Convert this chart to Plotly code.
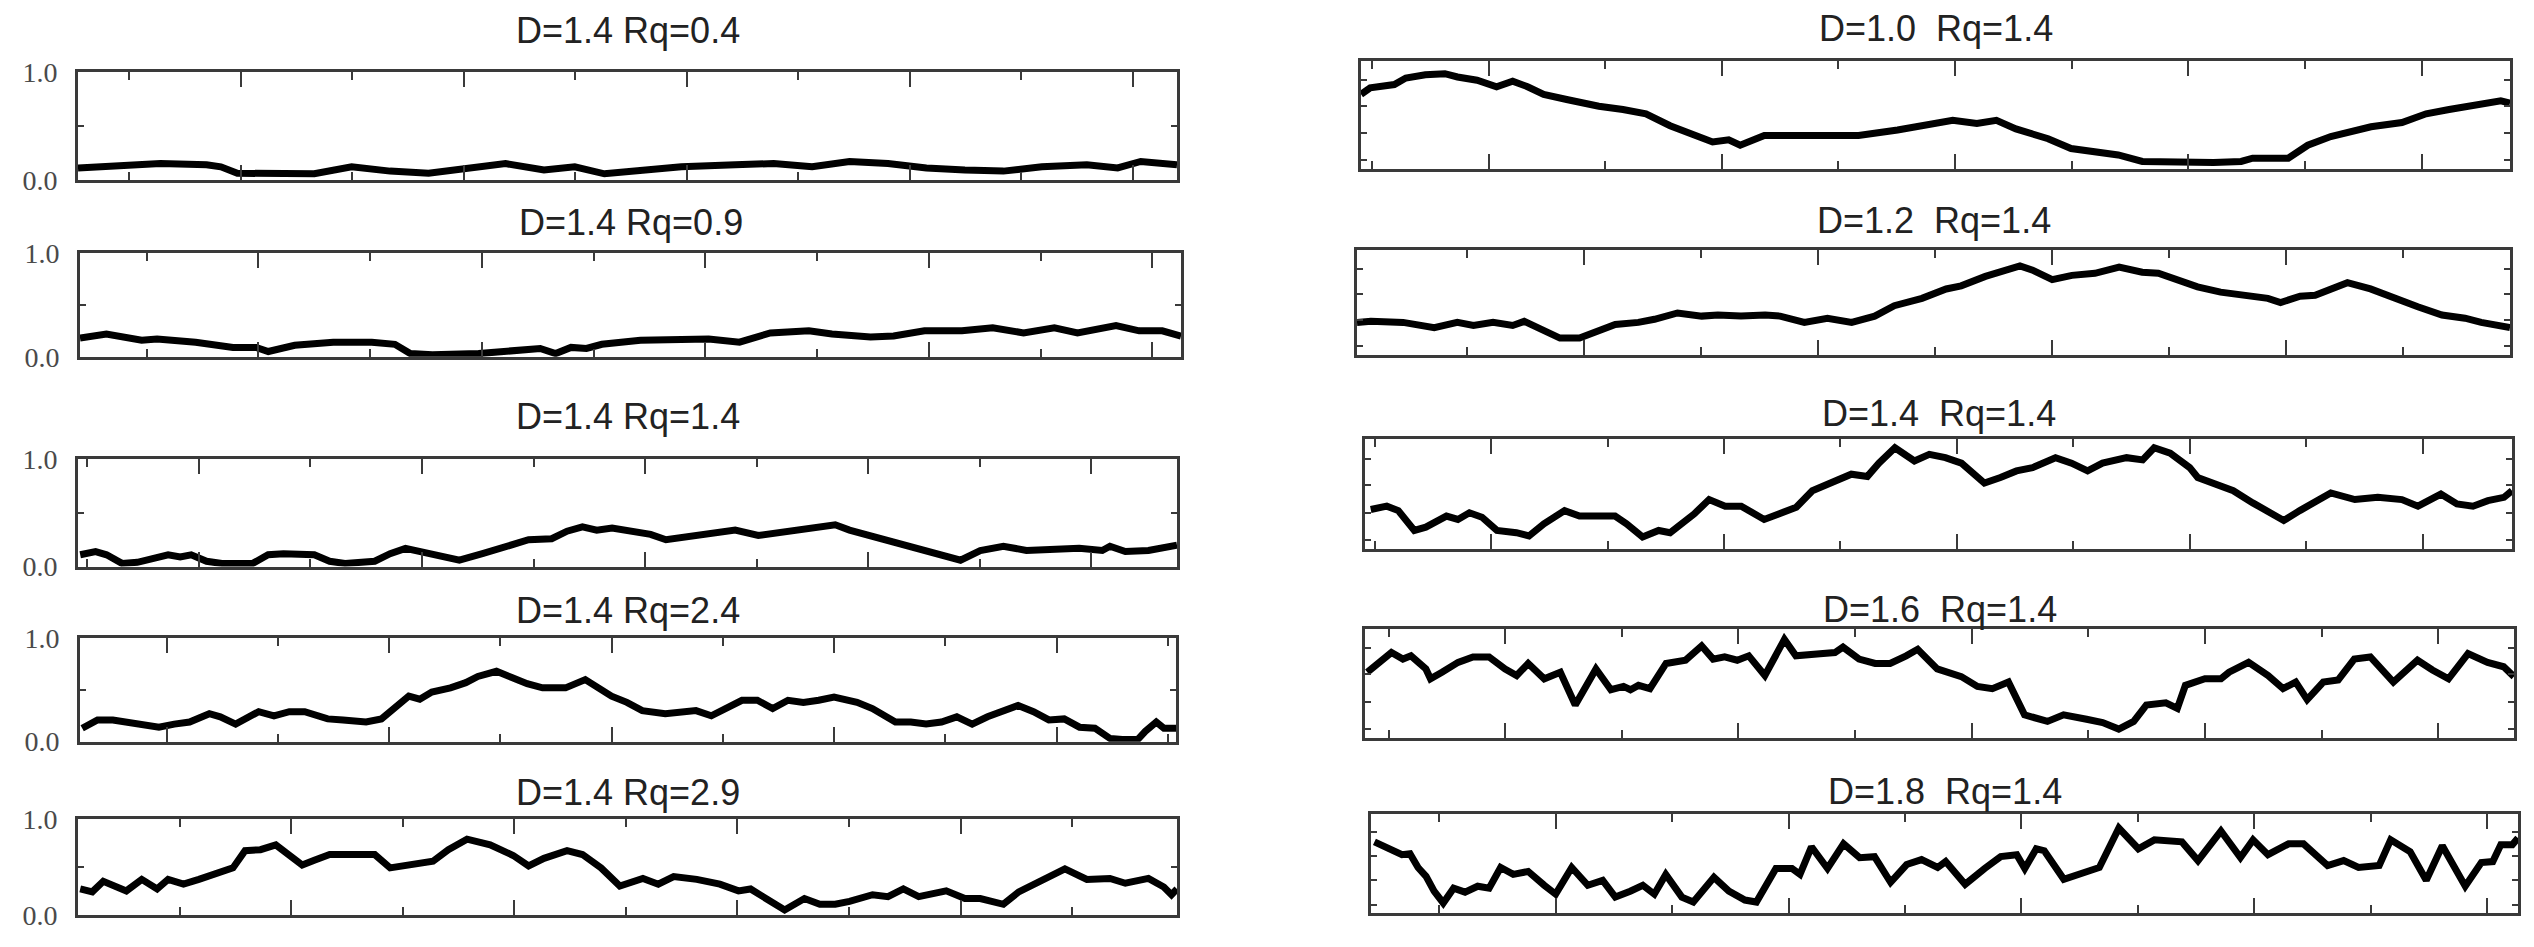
import plotly.graph_objects as go

# ---------------- data (x = % of profile length, y = normalised height) ----------------
titles_left = ["D=1.4 Rq=0.4", "D=1.4 Rq=0.9", "D=1.4 Rq=1.4", "D=1.4 Rq=2.4", "D=1.4 Rq=2.9"]
titles_right = ["D=1.0  Rq=1.4", "D=1.2  Rq=1.4", "D=1.4  Rq=1.4", "D=1.6  Rq=1.4", "D=1.8  Rq=1.4"]
y_ticktext = ["0.0", "1.0"]

L1_x = [0, 3, 7.5, 11.7, 13, 14.5, 18, 21.5, 24.9, 28.4, 31.9, 35.4, 38.9, 42.4, 45.2, 47.9, 51.4,
        54.9, 59.8, 63.3, 66.8, 70.2, 73.7, 77.2, 80.7, 84.2, 87.7, 91.8, 94.6, 96.7, 100]
L1_y = [0.11, 0.12, 0.15, 0.14, 0.12, 0.06, 0.05, 0.055, 0.12, 0.08, 0.06, 0.11, 0.15, 0.09, 0.12, 0.055, 0.09,
        0.12, 0.14, 0.15, 0.12, 0.17, 0.15, 0.11, 0.09, 0.08, 0.12, 0.14, 0.11, 0.17, 0.14]

L2_x = [0, 2.4, 5.6, 7, 10.5, 13.9, 16, 17.1, 19.5, 23, 26.5, 28.6, 30, 32, 36.2, 40.4, 41.8, 43.2, 44.6,
        46, 47.4, 50.9, 54.4, 57.1, 59.9, 62.7, 66.2, 68.3, 71.8, 73.9, 76.7, 80.1, 82.9, 85.7, 88.5,
        90.6, 94.1, 96.2, 98.3, 100]
L2_y = [0.18, 0.22, 0.16, 0.17, 0.14, 0.09, 0.09, 0.05, 0.11, 0.14, 0.14, 0.12, 0.03, 0.02, 0.03, 0.06,
        0.08, 0.03, 0.09, 0.08, 0.12, 0.16, 0.17, 0.17, 0.14, 0.23, 0.25, 0.22, 0.19, 0.2, 0.25, 0.25,
        0.28, 0.23, 0.28, 0.23, 0.3, 0.25, 0.25, 0.2]

L3_x = [0.2, 1.6, 2.6, 4, 5.4, 6.8, 8.2, 9.3, 10.3, 11.7, 13.1, 15.9, 17.3, 18.7, 21.5, 22.9, 24.3, 27,
        28.4, 29.8, 31.2, 32.6, 34.7, 36.8, 38.9, 41, 43.1, 44.5, 45.9, 47.2, 48.6, 50, 52.1, 53.5, 55.6,
        57.7, 59.8, 61.9, 63.3, 65.4, 67.5, 68.9, 70.2, 72.3, 74.4, 77.2, 79.3, 80.3, 82.1, 84.2, 86.3,
        89.1, 91.1, 93.2, 93.9, 95.3, 97.4, 100]
L3_y = [0.11, 0.14, 0.11, 0.03, 0.04, 0.08, 0.11, 0.09, 0.11, 0.05, 0.03, 0.03, 0.11, 0.12, 0.11, 0.05,
        0.03, 0.05, 0.12, 0.17, 0.14, 0.12, 0.06, 0.12, 0.19, 0.25, 0.26, 0.33, 0.37, 0.34, 0.36, 0.34,
        0.3, 0.25, 0.28, 0.31, 0.34, 0.29, 0.31, 0.34, 0.36, 0.39, 0.34, 0.28, 0.22, 0.15, 0.09, 0.06,
        0.15, 0.19, 0.15, 0.16, 0.17, 0.15, 0.19, 0.14, 0.15, 0.2]

L4_x = [0.2, 1.6, 3, 4.4, 5.8, 7.2, 8.6, 10, 11.8, 12.8, 14.2, 16.3, 17.7, 19.1, 20.5, 21.6, 22.6, 24,
        26.1, 27.5, 28.9, 30, 31, 32.1, 33.8, 35.2, 36.3, 38, 39.4, 40.8, 42.2, 44.3, 46.1, 47.1, 48.5,
        49.9, 51.3, 53.4, 54.8, 56.2, 57.6, 59, 60.4, 61.8, 63.2, 64.6, 66, 67.4, 68.8, 70.9, 72.3, 74.4,
        75.8, 77.2, 78.6, 80, 81.4, 82.8, 84.2, 85.6, 87, 88.4, 89.8, 91.2, 92.6, 94, 95.1, 96.5, 97.2,
        98.2, 98.9, 100]
L4_y = [0.13, 0.21, 0.21, 0.19, 0.16, 0.14, 0.17, 0.19, 0.27, 0.24, 0.17, 0.29, 0.25, 0.29, 0.29, 0.25,
        0.22, 0.21, 0.19, 0.22, 0.35, 0.44, 0.41, 0.48, 0.52, 0.57, 0.63, 0.68, 0.62, 0.56, 0.52, 0.52,
        0.6, 0.54, 0.44, 0.38, 0.3, 0.27, 0.29, 0.3, 0.25, 0.32, 0.4, 0.4, 0.32, 0.4, 0.38, 0.4, 0.43,
        0.38, 0.32, 0.19, 0.19, 0.17, 0.19, 0.24, 0.17, 0.24, 0.29, 0.35, 0.29, 0.21, 0.22, 0.14, 0.13,
        0.03, 0.02, 0.02, 0.1, 0.19, 0.13, 0.13]

L5_x = [0.2, 1.3, 2.3, 3.3, 4.4, 5.8, 7.2, 8.2, 9.6, 11, 12.4, 14.1, 15.2, 16.6, 18, 19.4, 20.4, 21.5,
        22.9, 24.3, 27, 28.4, 29.8, 32.3, 33.7, 35.4, 37.5, 39.6, 41, 42.4, 44.5, 45.9, 47.6, 49.3, 51.4,
        52.8, 54.2, 56.3, 58.4, 60.1, 61.2, 62.6, 64.3, 66.1, 67.5, 68.9, 70.2, 72.3, 73.7, 75.1, 76.5,
        79, 80.7, 82.1, 84.2, 85.6, 87.7, 89.8, 91.8, 93.9, 95.3, 97.4, 98.8, 99.5, 100]
L5_y = [0.27, 0.24, 0.35, 0.3, 0.25, 0.37, 0.27, 0.37, 0.32, 0.37, 0.43, 0.49, 0.67, 0.68, 0.73, 0.62,
        0.52, 0.57, 0.63, 0.63, 0.63, 0.49, 0.52, 0.56, 0.68, 0.79, 0.73, 0.62, 0.51, 0.59, 0.67, 0.63,
        0.49, 0.3, 0.38, 0.32, 0.4, 0.37, 0.32, 0.25, 0.27, 0.17, 0.05, 0.17, 0.11, 0.11, 0.14, 0.21,
        0.19, 0.27, 0.19, 0.25, 0.17, 0.17, 0.11, 0.24, 0.37, 0.48, 0.37, 0.38, 0.33, 0.38, 0.29, 0.21, 0.27]

R1_x = [0, 0.8, 2.9, 3.9, 5.6, 7.3, 8.4, 10.1, 11.8, 13.2, 14.5, 15.9, 18, 20.7, 22.8, 24.8, 26.9, 28.9,
        30.6, 32, 33, 35.1, 38.5, 43.3, 46.7, 49.5, 51.5, 53.6, 55.3, 57, 59.8, 61.8, 63.9, 65.9, 68,
        70.7, 74.2, 76.6, 77.6, 80.7, 82.4, 84.4, 87.9, 90.6, 92.7, 94.7, 97.5, 99.2, 100]
R1_y = [0.69, 0.75, 0.78, 0.84, 0.87, 0.88, 0.85, 0.82, 0.76, 0.81, 0.76, 0.69, 0.64, 0.58, 0.55, 0.51,
        0.4, 0.31, 0.25, 0.27, 0.22, 0.31, 0.31, 0.31, 0.36, 0.42, 0.45, 0.42, 0.45, 0.37, 0.28, 0.19,
        0.16, 0.13, 0.07, 0.06, 0.06, 0.07, 0.1, 0.1, 0.22, 0.3, 0.39, 0.43, 0.51, 0.55, 0.61, 0.63, 0.61]

R2_x = [0, 1.2, 4, 6.7, 8.7, 10.1, 11.8, 13.5, 14.5, 16.2, 17.6, 19.3, 20.7, 22.4, 24.4, 25.8, 27.8,
        29.9, 31.3, 33.3, 35.4, 36.7, 38.8, 40.8, 42.9, 44.9, 46.6, 49, 51.1, 52.4, 54.5, 55.8, 57.5,
        58.6, 60.3, 62, 64, 66.1, 68.1, 69.5, 70.9, 72.9, 74.9, 77, 79, 80.1, 81.8, 83.1, 84.5, 85.9,
        87.9, 89.9, 92, 94.1, 96.1, 97.5, 98.8, 100]
R2_y = [0.31, 0.32, 0.31, 0.26, 0.31, 0.28, 0.31, 0.28, 0.32, 0.24, 0.16, 0.16, 0.22, 0.29, 0.31, 0.34,
        0.4, 0.37, 0.38, 0.37, 0.38, 0.37, 0.31, 0.35, 0.31, 0.37, 0.47, 0.54, 0.63, 0.66, 0.75, 0.79,
        0.85, 0.81, 0.72, 0.76, 0.78, 0.84, 0.79, 0.78, 0.72, 0.65, 0.6, 0.57, 0.54, 0.5, 0.56, 0.57,
        0.63, 0.69, 0.63, 0.54, 0.46, 0.38, 0.35, 0.31, 0.29, 0.26]

R3_x = [0.5, 1.9, 2.9, 4.3, 5.3, 7.1, 8.1, 9.1, 10.2, 11.5, 13.2, 14.3, 15.6, 17.4, 18.7, 21.8, 22.8,
        24.2, 25.6, 26.6, 28.7, 30, 31.4, 32.8, 34.8, 36.2, 37.6, 39, 40.3, 42.4, 43.8, 44.8, 46.2, 47.9,
        49.2, 50.6, 52, 54, 55.4, 56.8, 58.2, 60.2, 61.6, 63, 64.3, 66.4, 67.8, 68.8, 70.2, 71.9, 72.6,
        73.9, 75.7, 77.4, 78.7, 80.1, 81.5, 82.9, 84.2, 86.3, 88.3, 90.4, 91.8, 93.8, 95.2, 96.6, 97.9,
        99.3, 100]
R3_y = [0.36, 0.39, 0.35, 0.17, 0.2, 0.3, 0.27, 0.33, 0.29, 0.17, 0.15, 0.12, 0.23, 0.35, 0.3, 0.3,
        0.23, 0.11, 0.17, 0.15, 0.32, 0.45, 0.39, 0.39, 0.27, 0.32, 0.38, 0.53, 0.59, 0.68, 0.66, 0.78,
        0.92, 0.8, 0.86, 0.83, 0.78, 0.6, 0.65, 0.71, 0.74, 0.83, 0.78, 0.71, 0.78, 0.83, 0.81, 0.92,
        0.87, 0.74, 0.65, 0.6, 0.53, 0.42, 0.35, 0.26, 0.35, 0.44, 0.51, 0.45, 0.47, 0.45, 0.39, 0.5,
        0.41, 0.39, 0.44, 0.47, 0.53]

R4_x = [0.2, 1.2, 2.3, 3.3, 4, 5.3, 5.7, 6.7, 8.1, 9.4, 10.8, 12.2, 13.2, 14.2, 15.6, 17, 18.3, 20.1,
        21.4, 22.5, 23.1, 23.8, 24.8, 26.2, 27.9, 29.3, 30.3, 31.3, 32.4, 33.4, 34.8, 36.5, 37.5, 39.6,
        40.9, 41.6, 43, 44.4, 45.7, 47.1, 48.1, 49.8, 51.9, 53.3, 54.6, 56, 57.4, 59.4, 60.8, 62.8, 64.2,
        65.6, 66.9, 68, 69.7, 70.7, 71.4, 73.1, 74.5, 75.2, 76.9, 78.6, 79.9, 81, 82, 83.4, 84.7, 86.1,
        87.5, 89.5, 91.6, 92.9, 94.3, 96, 97.7, 99.1, 100]
R4_y = [0.6, 0.69, 0.78, 0.72, 0.75, 0.63, 0.54, 0.6, 0.69, 0.74, 0.74, 0.63, 0.57, 0.68, 0.54, 0.6,
        0.3, 0.63, 0.44, 0.47, 0.44, 0.48, 0.45, 0.68, 0.71, 0.84, 0.72, 0.74, 0.71, 0.75, 0.57, 0.9,
        0.75, 0.77, 0.78, 0.83, 0.72, 0.68, 0.68, 0.75, 0.81, 0.63, 0.56, 0.47, 0.45, 0.51, 0.21, 0.15,
        0.21, 0.17, 0.14, 0.08, 0.15, 0.3, 0.32, 0.27, 0.48, 0.54, 0.54, 0.6, 0.69, 0.57, 0.45, 0.51,
        0.35, 0.51, 0.53, 0.72, 0.74, 0.51, 0.71, 0.62, 0.54, 0.77, 0.69, 0.65, 0.56]

R5_x = [0.3, 1.4, 2.7, 3.4, 4.1, 4.8, 5.5, 6.3, 7.2, 8.2, 9.3, 10.3, 11.3, 12.4, 13.7, 15.1, 16.1, 17.5,
        18.9, 20.2, 21.3, 22.6, 23.7, 24.7, 25.7, 27.1, 28.1, 29.9, 31.2, 32.6, 33.6, 35.3, 36.7, 37.4,
        38.4, 39.8, 41.2, 42.6, 43.9, 45.3, 46.7, 48, 49.4, 50.1, 51.8, 53.5, 54.9, 56.3, 57, 58, 58.7,
        60.4, 62.5, 63.5, 65.2, 66.9, 68.3, 70.7, 72.1, 74.1, 75.8, 76.9, 78.2, 80, 81.3, 83.4, 84.8,
        86.1, 87.9, 88.9, 90.6, 92, 93.4, 95.4, 96.8, 97.8, 98.5, 99.5, 100]
R5_y = [0.72, 0.66, 0.59, 0.6, 0.46, 0.37, 0.22, 0.1, 0.25, 0.21, 0.27, 0.25, 0.46, 0.39, 0.42, 0.28,
        0.19, 0.46, 0.28, 0.33, 0.16, 0.22, 0.28, 0.19, 0.39, 0.16, 0.11, 0.36, 0.22, 0.13, 0.11, 0.45,
        0.45, 0.39, 0.67, 0.45, 0.7, 0.56, 0.57, 0.31, 0.49, 0.54, 0.46, 0.52, 0.29, 0.45, 0.57, 0.59,
        0.45, 0.65, 0.63, 0.34, 0.43, 0.46, 0.86, 0.65, 0.74, 0.72, 0.53, 0.83, 0.56, 0.74, 0.59, 0.7,
        0.7, 0.48, 0.53, 0.46, 0.48, 0.74, 0.62, 0.33, 0.68, 0.27, 0.51, 0.52, 0.69, 0.69, 0.76]

left_series = [(L1_x, L1_y), (L2_x, L2_y), (L3_x, L3_y), (L4_x, L4_y), (L5_x, L5_y)]
right_series = [(R1_x, R1_y), (R2_x, R2_y), (R3_x, R3_y), (R4_x, R4_y), (R5_x, R5_y)]

# ---------------- layout geometry (pixels in the 2534 x 947 canvas) ----------------
W, H = 2534, 947
left_boxes = [(70, 1169, 51, 162), (72, 1173, 238, 345), (70, 1169, 451, 562),
              (72, 1168, 636, 743), (70, 1169, 823, 922)]
right_boxes = [(1353, 2502, 39, 151), (1349, 2502, 235, 343), (1357, 2504, 430, 544),
               (1357, 2506, 626, 739), (1363, 2510, 818, 920)]
left_title_y = [8, 206, 407, 607, 796]
right_title_y = [6, 204, 404, 606, 795]
left_phase = [14.8, 16.2, 11.0, 7.9, 19.4]
right_phase = [11.1, 19.7, 11.0, 12.2, 16.1]
TICK_STEP = 20.3

fig = go.Figure()
layout = dict(width=W, height=H, margin=dict(l=0, r=0, t=0, b=0),
              paper_bgcolor="white", plot_bgcolor="white", showlegend=False,
              annotations=[])

FRAME = "#3a3a3a"


def tick_list(p0):
    vals = []
    v = p0
    while v > 0:
        v -= TICK_STEP
    v += TICK_STEP
    while v < 100:
        vals.append(round(v, 2))
        v += TICK_STEP
    return vals


def add_panel(i, series, box, title, title_y, phase, labels):
    x0, x1, y0, y1 = box
    xs, ys = series
    xa = "xaxis" if i == 1 else f"xaxis{i}"
    ya = "yaxis" if i == 1 else f"yaxis{i}"
    xr = "x" if i == 1 else f"x{i}"
    yr = "y" if i == 1 else f"y{i}"
    fig.add_trace(go.Scatter(x=xs, y=ys, mode="lines", xaxis=xr, yaxis=yr,
                             line=dict(color="black", width=7), hoverinfo="skip"))
    layout[xa] = dict(domain=[x0 / W, x1 / W], anchor=yr, range=[0, 100],
                      showline=True, linecolor=FRAME, linewidth=3, mirror="ticks",
                      showgrid=False, zeroline=False, showticklabels=False,
                      ticks="inside", ticklen=15, tickwidth=2, tickcolor=FRAME,
                      tickmode="array", tickvals=tick_list(phase),
                      minor=dict(ticks="inside", ticklen=8, tickwidth=2, tickcolor=FRAME,
                                 tickmode="array", tickvals=tick_list(phase - TICK_STEP / 2)))
    ydict = dict(domain=[1 - y1 / H, 1 - y0 / H], anchor=xr, range=[0, 1],
                 showline=True, linecolor=FRAME, linewidth=3, mirror="ticks",
                 showgrid=False, zeroline=False)
    if labels:
        ydict.update(ticks="inside", ticklen=0.1, tickcolor=FRAME, tickmode="array",
                     tickvals=[0, 1], ticktext=y_ticktext, showticklabels=True,
                     ticklabelstandoff=12,
                     tickfont=dict(family="Liberation Serif", size=28, color="#4a4a4a"),
                     minor=dict(ticks="inside", ticklen=6, tickwidth=2, tickcolor=FRAME,
                                tickmode="array", tickvals=[0.5]))
    else:
        ydict.update(ticks="inside", ticklen=6, tickwidth=2, tickcolor=FRAME,
                     tickmode="array", tickvals=[0.08, 0.33, 0.58, 0.82],
                     showticklabels=False)
    layout[ya] = ydict
    layout["annotations"].append(dict(
        text=title, x=(x0 + x1) / 2 / W, y=1 - title_y / H, xref="paper", yref="paper",
        xanchor="center", yanchor="middle", showarrow=False,
        font=dict(family="Liberation Sans, Arial", size=36, color="#222")))


for k in range(5):
    add_panel(k + 1, left_series[k], left_boxes[k], titles_left[k], left_title_y[k], left_phase[k], True)
for k in range(5):
    add_panel(k + 6, right_series[k], right_boxes[k], titles_right[k], right_title_y[k], right_phase[k], False)

fig.update_layout(**layout)
fig.write_html("out.html")
